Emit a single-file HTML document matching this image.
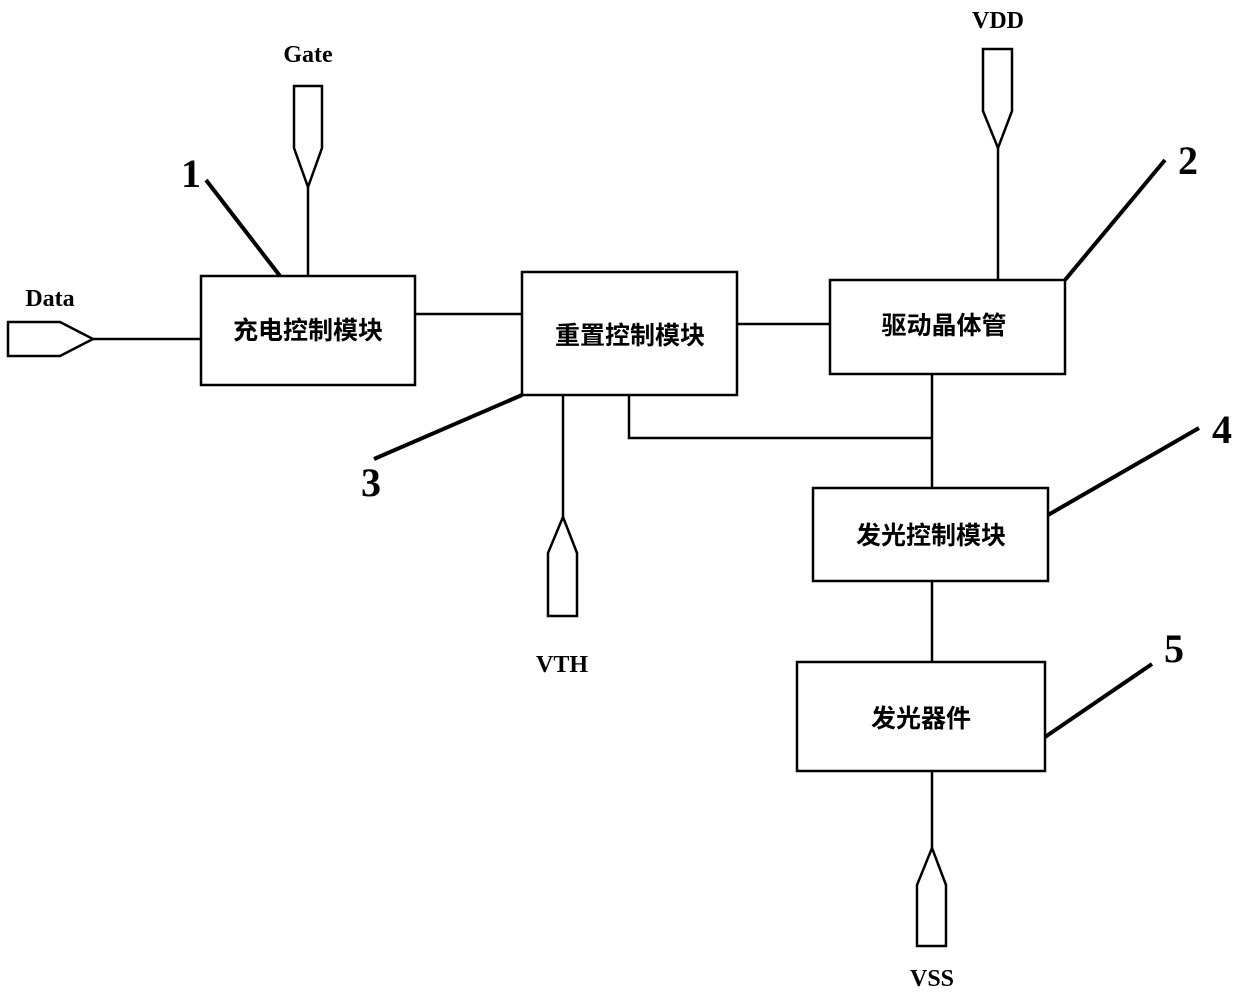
<!DOCTYPE html>
<html><head><meta charset="utf-8"><style>html,body{margin:0;padding:0;background:#fff}svg{display:block}</style></head>
<body>
<svg width="1240" height="996" viewBox="0 0 1240 996" xmlns="http://www.w3.org/2000/svg">
<g fill="none" stroke="#000" stroke-width="2.5">
<rect x="201" y="276" width="214" height="109"/>
<rect x="522" y="272" width="215" height="123"/>
<rect x="830" y="280" width="235" height="94"/>
<rect x="813" y="488" width="235" height="93"/>
<rect x="797" y="662" width="248" height="109"/>
<path d="M294,86 H322 V148 L308,187 L294,148 Z"/>
<line x1="308" y1="187" x2="308" y2="276"/>
<path d="M8,322 H60 L93,339 L60,356 H8 Z"/>
<line x1="93" y1="339" x2="201" y2="339"/>
<path d="M983,49 H1012 V111 L998,148 L983,111 Z"/>
<line x1="998" y1="148" x2="998" y2="280"/>
<line x1="415" y1="314" x2="522" y2="314"/>
<line x1="737" y1="324" x2="830" y2="324"/>
<polyline points="629,395 629,438 932,438"/>
<line x1="932" y1="374" x2="932" y2="488"/>
<line x1="932" y1="581" x2="932" y2="662"/>
<line x1="563" y1="395" x2="563" y2="517"/>
<path d="M563,517 L577,553 V616 H548 V553 Z"/>
<line x1="932" y1="771" x2="932" y2="848"/>
<path d="M932,848 L946,885 V946 H917 V885 Z"/>
</g>
<g stroke="#000" stroke-width="4" fill="none">
<line x1="206" y1="180" x2="280" y2="276"/>
<line x1="1065" y1="280" x2="1165" y2="160"/>
<line x1="522" y1="395" x2="374" y2="459"/>
<line x1="1048" y1="515" x2="1199" y2="428"/>
<line x1="1045" y1="737" x2="1152" y2="664"/>
</g>
<g font-family="'Liberation Serif', serif" font-weight="bold" font-size="24" text-anchor="middle" fill="#000">
<text x="308" y="62">Gate</text>
<text x="50" y="306">Data</text>
<text x="998" y="28">VDD</text>
<text x="562" y="672">VTH</text>
<text x="932" y="986">VSS</text>
</g>
<g font-family="'Liberation Serif', serif" font-size="40" font-weight="600" text-anchor="middle" fill="#000">
<text x="191" y="187">1</text>
<text x="1188" y="174">2</text>
<text x="371" y="496">3</text>
<text x="1222" y="443">4</text>
<text x="1174" y="662">5</text>
</g>
<g font-family="'Liberation Sans','Noto Sans CJK SC',sans-serif" font-weight="bold" font-size="25" text-anchor="middle" fill="#000">
<text x="308" y="339">充电控制模块</text>
<text x="630" y="344">重置控制模块</text>
<text x="944" y="334">驱动晶体管</text>
<text x="931" y="544">发光控制模块</text>
<text x="921" y="727">发光器件</text>
</g>
</svg>
</body></html>
